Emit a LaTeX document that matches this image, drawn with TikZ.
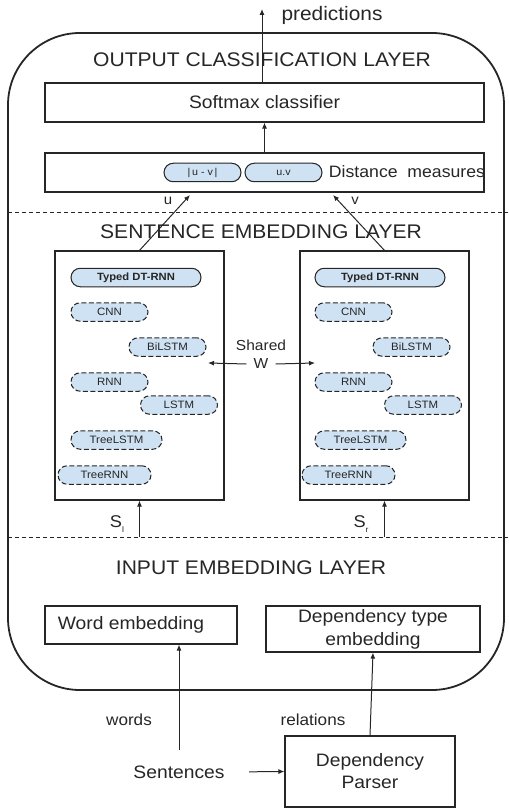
\documentclass[tikz,border=0pt]{standalone}
\usepackage{fontspec}
\setmainfont{Liberation Sans}[FakeStretch=1.07]
\usetikzlibrary{arrows.meta}
\definecolor{ink}{HTML}{262626}
\definecolor{pale}{HTML}{CFE2F3}
\begin{document}
\begin{tikzpicture}[x=1pt,y=-1pt,
  title/.style={font=\fontsize{19.7}{22}\selectfont, text=ink, inner sep=0},
  txt/.style={font=\fontsize{18}{22}\selectfont, text=ink},
  lbl/.style={font=\fontsize{16}{18}\selectfont, text=ink, inner sep=1pt},
  box/.style={draw=ink, line width=1.1pt, rectangle, inner sep=0, font=\fontsize{18}{23}\selectfont, text=ink, align=center},
  pill/.style={draw=ink, fill=pale, rounded corners=9.25pt, minimum height=18.5pt, inner sep=0, font=\fontsize{10.7}{12}\selectfont, text=ink, line width=1pt},
  dpill/.style={pill, dash pattern=on 5pt off 2.5pt},
  arr/.style={-{Latex[length=6pt,width=5pt]}, draw=ink, line width=1pt},
  sep/.style={draw=ink, line width=0.9pt, dash pattern=on 4pt off 3pt}]
\useasboundingbox (0,0) rectangle (508,810);
% outer frame
\draw[ink, line width=1.8pt, rounded corners=72pt] (8,33) rectangle (504,690);
% layer separators
\draw[sep] (8,212) -- (508,212);
\draw[sep] (8,537) -- (508,537);
% titles
\node[title] (tout) at (262,60) {OUTPUT CLASSIFICATION LAYER};
\node[title] (tsen) at (261,232) {SENTENCE EMBEDDING LAYER};
\node[title] (tinp) at (251,568) {INPUT EMBEDDING LAYER};
% output layer
\node[box, minimum width=439pt, minimum height=39pt] (soft) at (264.5,102.5) {Softmax classifier};
\node[box, minimum width=439pt, minimum height=39pt] (dist) at (264.5,172.5) {};
\node[pill, minimum width=77pt, font=\fontsize{10}{12}\selectfont] (uv1) at (202.5,172.5) {|\,u - v\,|};
\node[pill, minimum width=77pt, font=\fontsize{10}{12}\selectfont] (uv2) at (283.5,172.5) {u.v};
\node[font=\fontsize{16.5}{18}\selectfont, text=ink] (dm) at (407,172) {Distance\ \ measures};
\node[title, font=\fontsize{19.5}{22}\selectfont] (pred) at (332,15) {predictions};
\coordinate (predtip) at (262,9);
\draw[arr] (soft.north -| predtip) -- (predtip);
\draw[arr] (dist.north) -- (soft.south);
% sentence boxes
\node[box, minimum width=169pt, minimum height=249pt] (lbox) at (139.5,375.5) {};
\node[box, minimum width=169pt, minimum height=249pt] (rbox) at (384.5,375.5) {};
\foreach \s/\dx in {l/0, r/244} {
  \node[pill, minimum width=130pt, font=\fontsize{10.5}{12}\selectfont\bfseries] (typed\s) at (136+\dx,277.5) {Typed DT-RNN};
  \node[dpill, minimum width=77pt] (cnn\s) at (109.5+\dx,312) {CNN};
  \node[dpill, minimum width=77pt] (bilstm\s) at (167.5+\dx,347) {BiLSTM};
  \node[dpill, minimum width=77pt] (rnn\s) at (109.5+\dx,382) {RNN};
  \node[dpill, minimum width=77pt] (lstm\s) at (179+\dx,405) {LSTM};
  \node[dpill, minimum width=91pt] (treelstm\s) at (116.5+\dx,440) {TreeLSTM};
  \node[dpill, minimum width=93pt] (treernn\s) at (104.5+\dx,475) {TreeRNN};
}
% u, v
\coordinate (utip) at (190,195);
\coordinate (vtip) at (333,195);
\draw[arr] (lbox.north) -- (utip);
\draw[arr] (rbox.north) -- (vtip);
\node[font=\fontsize{14}{16}\selectfont, text=ink] (ulab) at (168,201) {u};
\node[font=\fontsize{14}{16}\selectfont, text=ink] (vlab) at (355,201) {v};
% shared W
\node[font=\fontsize{14.5}{16}\selectfont, text=ink, inner sep=0] (shared) at (261,345) {Shared};
\node[font=\fontsize{14.5}{16}\selectfont, text=ink, inner sep=7pt] (W) at (261,364) {W};
\coordinate (wl) at (208,363);
\coordinate (wr) at (315,363);
\draw[arr] (W.west) -- (wl);
\draw[arr] (W.east) -- (wr);
% S_l, S_r
\coordinate (sl) at (139.5,537);
\coordinate (sr) at (384.5,537);
\draw[arr] (sl) -- (lbox.south);
\draw[arr] (sr) -- (rbox.south);
\node[font=\fontsize{17}{18}\selectfont, text=ink] (slab) at (117,524) {S\raisebox{-5pt}{\fontsize{8}{8}\selectfont l}};
\node[font=\fontsize{17}{18}\selectfont, text=ink] (srlab) at (361,524) {S\raisebox{-5pt}{\fontsize{8}{8}\selectfont r}};
% input layer
\node[box, minimum width=192pt, minimum height=38pt] (word) at (141,625) {Word embedding\hspace{20pt}};
\node[box, minimum width=214pt, minimum height=46pt] (dep) at (373,629) {Dependency type\\embedding};
\node[box, minimum width=170pt, minimum height=71pt, font=\fontsize{18}{22}\selectfont] (parser) at (370,771.5) {Dependency\\Parser};
\node[txt] (sent) at (179,772) {Sentences};
\node[lbl] (words) at (129,720) {words};
\node[lbl] (rel) at (313,720) {relations};
\draw[arr, shorten <=12pt] (sent.north) -- (sent.north |- word.south);
\draw[arr, shorten <=21pt] (sent.east) -- (parser.west);
\draw[arr] (parser.north) -- (dep.south);
\end{tikzpicture}
\end{document}
